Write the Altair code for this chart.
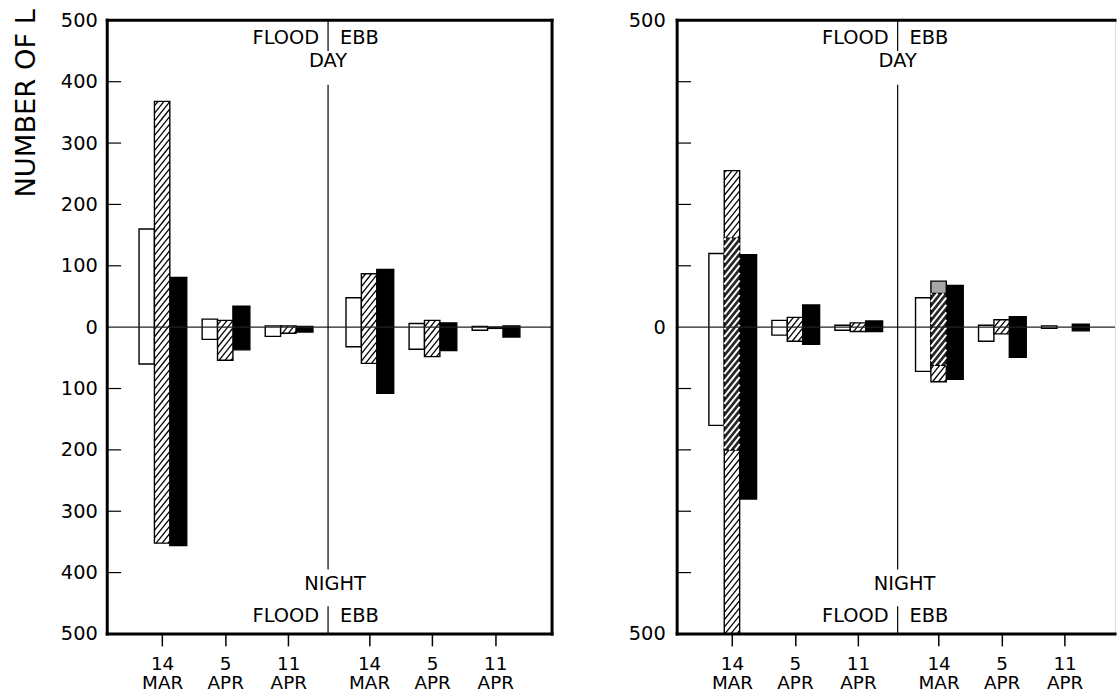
import json
import math

import altair as alt
import pandas as pd

# Sampling dates (two-line tick labels), flood tide first, then ebb tide
dates = ["14|MAR", "5|APR", "11|APR", "14|MAR", "5|APR", "11|APR"]

# Left panel: counts by day (above zero) and night (below zero)
left_open_day = [160, 13, 2, 48, 6, 1]
left_open_night = [60, 20, 15, 32, 36, 5]
left_hatch_day = [368, 11, 2, 87, 11, 0]
left_hatch_night = [352, 54, 10, 59, 48, 2]
left_solid_day = [81, 34, 1, 94, 7, 2]
left_solid_night = [356, 37, 8, 108, 38, 16]

# Right panel
right_open_day = [120, 11, 3, 48, 3, 2]
right_open_night = [160, 13, 5, 72, 23, 2]
right_hatch_day = [255, 16, 7, 75, 12, 0]      # whole hatched bar
right_hatch_night = [500, 23, 7, 89, 11, 0]
right_dense_day = [145, 0, 0, 55, 0, 0]        # densely hatched part of that bar
right_dense_night = [200, 0, 0, 62, 0, 0]
right_stipple_day = [0, 0, 0, 20, 0, 0]        # stippled cap above the dense part
right_solid_day = [118, 36, 10, 68, 17, 5]
right_solid_night = [280, 28, 7, 85, 49, 6]

FONT = "DejaVu Sans"
X_MIN = -0.87
EBB_START = 3.28
DIVIDER = 2.63
HEIGHT = 618
BAR_PX = 15.5

centers = [i if i < 3 else EBB_START + (i - 3) for i in range(len(dates))]


def hatch_lines(x0, x1, lo, hi, xs, ys, step=7.5, slope=1.25):
    """Diagonal '/' strokes clipped to a bar, worked out in pixels, returned in data units."""
    X0, X1, Y0, Y1 = x0 * xs, x1 * xs, lo * ys, hi * ys
    rows = []
    c = math.floor((Y0 - slope * X1) / step) * step
    while c <= Y1 - slope * X0:
        a = max(X0, (Y0 - c) / slope)
        b = min(X1, (Y1 - c) / slope)
        if b - a > 0.3:
            rows.append(dict(ax=a / xs, ay=(slope * a + c) / ys,
                             bx=b / xs, by=(slope * b + c) / ys))
        c += step
    return rows


def panel(d, x_max, width, y_values, label_pad, title, right_border):
    xs = width / (x_max - X_MIN)
    ys = HEIGHT / 1000.0
    bw = BAR_PX / xs
    xsc = alt.Scale(domain=[X_MIN, x_max], nice=False, zero=False)
    ysc = alt.Scale(domain=[-500, 500], nice=False, zero=False)

    rects, light, dense = [], [], []
    for i, c in enumerate(centers):
        rects.append(dict(x0=c - 1.5 * bw, x1=c - 0.5 * bw,
                          lo=-d["open_night"][i], hi=d["open_day"][i], fill="white"))
        rects.append(dict(x0=c + 0.5 * bw, x1=c + 1.6 * bw,
                          lo=-d["solid_night"][i], hi=d["solid_day"][i], fill="black"))
        x0, x1 = c - 0.5 * bw, c + 0.5 * bw
        td, tn = d["hatch_day"][i], d["hatch_night"][i]
        dd, dn, sd = d["dense_day"][i], d["dense_night"][i], d["stipple_day"][i]
        if dd == 0 and dn == 0 and sd == 0:
            pieces = [("light", -tn, td)]
        else:
            pieces = [("light", -tn, -dn), ("dense", -dn, dd),
                      ("stipple", dd, dd + sd), ("light", dd + sd, td)]
        for kind, lo, hi in pieces:
            if hi - lo <= 0:
                continue
            fill = {"light": "white", "dense": "#262626", "stipple": "#a6a6a6"}[kind]
            rects.append(dict(x0=x0, x1=x1, lo=lo, hi=hi, fill=fill))
            if kind == "light":
                light += hatch_lines(x0, x1, lo, hi, xs, ys)
            elif kind == "dense":
                dense += hatch_lines(x0, x1, lo, hi, xs, ys)
    rects = pd.DataFrame(rects)

    labels_expr = "split(" + json.dumps(dates) + "[floor(datum.value + 0.01)], '|')"
    x_axis = alt.Axis(values=centers, labelExpr=labels_expr, tickSize=12, tickWidth=1.5,
                      tickColor="black", domain=False, grid=False, labelFontSize=18.5,
                      labelLineHeight=19, labelPadding=9, labelColor="black", labelFont=FONT,
                      labelFlush=False, labelOverlap=False, labelAngle=0, title=None)
    y_kw = dict(values=y_values, labelExpr="abs(datum.value)", ticks=False, domain=False,
                grid=False, labelPadding=label_pad, labelFontSize=19.5, labelColor="black",
                labelFont=FONT, labelFlush=False, labelOverlap=False)
    if title:
        y_kw.update(title=title, titleFontSize=27.5, titleFontWeight="normal", titleFont=FONT,
                    titleAngle=270, titleX=-73, titleY=178, titleAlign="left",
                    titleBaseline="alphabetic", titleColor="black")
    else:
        y_kw.update(title=None)
    y_axis = alt.Axis(**y_kw)

    def X(field):
        return alt.X(field, scale=xsc, axis=x_axis)

    def Y(field):
        return alt.Y(field, scale=ysc, axis=y_axis)

    bars = alt.Chart(rects).mark_rect(stroke="black", strokeWidth=1.4).encode(
        x=X("x0:Q"), x2="x1:Q", y=Y("lo:Q"), y2="hi:Q",
        fill=alt.Fill("fill:N", scale=None),
    )
    layers = [bars]

    def seg_layer(rows, color, w):
        return alt.Chart(pd.DataFrame(rows)).mark_rule(color=color, strokeWidth=w).encode(
            x=X("ax:Q"), x2="bx:Q", y=Y("ay:Q"), y2="by:Q")

    if light:
        layers.append(seg_layer(light, "black", 1.3))
    if dense:
        layers.append(seg_layer(dense, "white", 2.0))

    # zero line
    layers.append(alt.Chart(pd.DataFrame({"v": [0]})).mark_rule(
        color="#222222", strokeWidth=1.1).encode(y=Y("v:Q")))

    # flood / ebb divider, broken around the DAY and NIGHT labels
    div = pd.DataFrame({"x": [DIVIDER] * 3, "y": [500, 395, -455], "y2": [450, -395, -500]})
    layers.append(alt.Chart(div).mark_rule(color="black", strokeWidth=1.2).encode(
        x=X("x:Q"), y=Y("y:Q"), y2="y2:Q"))

    # inward ticks on the count axis
    ticks = pd.DataFrame({"v": [-400, -300, -200, -100, 100, 200, 300, 400]})
    layers.append(alt.Chart(ticks).mark_rule(color="black", strokeWidth=1.2).encode(
        y=Y("v:Q"), x=alt.value(0), x2=alt.value(14)))

    # frame
    layers.append(alt.Chart(pd.DataFrame({"v": [500, -500]})).mark_rule(
        color="black", strokeWidth=3, strokeCap="square").encode(y=Y("v:Q")))
    edges = [X_MIN, x_max] if right_border else [X_MIN]
    layers.append(alt.Chart(pd.DataFrame({"u": edges})).mark_rule(
        color="black", strokeWidth=3, strokeCap="square").encode(x=X("u:Q")))

    # tide / time-of-day annotations
    def txt(rows, align):
        return alt.Chart(pd.DataFrame(rows)).mark_text(
            align=align, baseline="middle", font=FONT, fontSize=19.5, color="black").encode(
            x=X("x:Q"), y=Y("y:Q"), text="t:N")

    layers.append(txt([dict(t="FLOOD", x=DIVIDER - 9 / xs, y=471),
                       dict(t="FLOOD", x=DIVIDER - 9 / xs, y=-471)], "right"))
    layers.append(txt([dict(t="EBB", x=DIVIDER + 12 / xs, y=471),
                       dict(t="EBB", x=DIVIDER + 12 / xs, y=-471)], "left"))
    layers.append(txt([dict(t="DAY", x=DIVIDER, y=433),
                       dict(t="NIGHT", x=DIVIDER + 7 / xs, y=-418)], "center"))

    return alt.layer(*layers).properties(width=width, height=HEIGHT)


left = panel(dict(open_day=left_open_day, open_night=left_open_night,
                  hatch_day=left_hatch_day, hatch_night=left_hatch_night,
                  dense_day=[0] * 6, dense_night=[0] * 6, stipple_day=[0] * 6,
                  solid_day=left_solid_day, solid_night=left_solid_night),
             6.18, 448, list(range(-500, 501, 100)), 10, "NUMBER OF L", True)

right = panel(dict(open_day=right_open_day, open_night=right_open_night,
                   hatch_day=right_hatch_day, hatch_night=right_hatch_night,
                   dense_day=right_dense_day, dense_night=right_dense_night,
                   stipple_day=right_stipple_day,
                   solid_day=right_solid_day, solid_night=right_solid_night),
              6.08, 441, [-500, 0, 500], 12, None, False)

chart = alt.hconcat(left, right, spacing=73).properties(
    padding={"left": 12, "top": 5, "right": 0, "bottom": 0}
).configure_view(stroke=None).configure(font=FONT, background="white")

chart.save("out.html", embed_options={"renderer": "svg", "actions": False})
